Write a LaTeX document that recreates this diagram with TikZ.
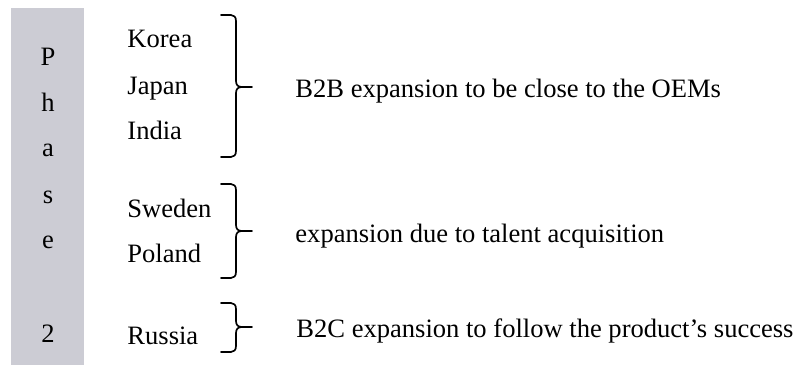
\documentclass[tikz,border=0pt]{standalone}
\usepackage{fontspec}
\setmainfont{Liberation Serif}
\definecolor{phasegrey}{RGB}{204,204,212}
\tikzset{
  txt/.style={anchor=base west, inner sep=0pt, font=\fontsize{11.95}{14}\selectfont},
  letter/.style={anchor=base, inner sep=0pt, font=\fontsize{11.95}{14}\selectfont},
  bracepath/.style={draw=black, line width=0.75pt, line cap=round, line join=round}
}
\newcommand{\rbr}[4]{% top, mid, bottom, name
  \coordinate (#4t) at (221,#1);
  \coordinate (#4m) at (252,#2);
  \coordinate (#4b) at (221,#3);
  \path[bracepath] (#4t) -- (231,#1) .. controls (234,#1) and (236,#1+2) .. (236,#1+6)
     -- (236,#2-6) .. controls (236,#2-2) and (238,#2) .. (242,#2) -- (#4m);
  \path[bracepath] (242,#2) .. controls (238,#2) and (236,#2+2) .. (236,#2+6)
     -- (236,#3-6) .. controls (236,#3-2) and (234,#3) .. (231,#3) -- (#4b);
}
\begin{document}
\begin{tikzpicture}[x=0.45pt,y=-0.45pt]
\useasboundingbox (0,0) rectangle (797,374);
\fill[phasegrey] (11,8) rectangle (84,365);
\node[letter] (p1) at (48,65) {P};
\node[letter] (p2) at (48,111) {h};
\node[letter] (p3) at (48,156) {a};
\node[letter] (p4) at (48,203) {s};
\node[letter] (p5) at (48,248) {e};
\node[letter] (p6) at (48,342) {2};
\node[txt] (korea) at (127,48) {Korea};
\node[txt] (japan) at (127,94) {Japan};
\node[txt] (india) at (127,139) {India};
\node[txt] (sweden) at (127,217) {Sweden};
\node[txt] (poland) at (127,262) {Poland};
\node[txt] (russia) at (127,344) {Russia};
\rbr{15}{87}{157}{ba}
\rbr{184}{231}{278}{bb}
\rbr{303}{327}{352}{bc}
\node[txt] (l1) at (295,97) {B2B expansion to be close to the OEMs};
\node[txt] (l2) at (295,242) {expansion due to talent acquisition};
\node[txt] (l3) at (296,337) {B2C expansion to follow the product’s success};
\end{tikzpicture}
\end{document}
